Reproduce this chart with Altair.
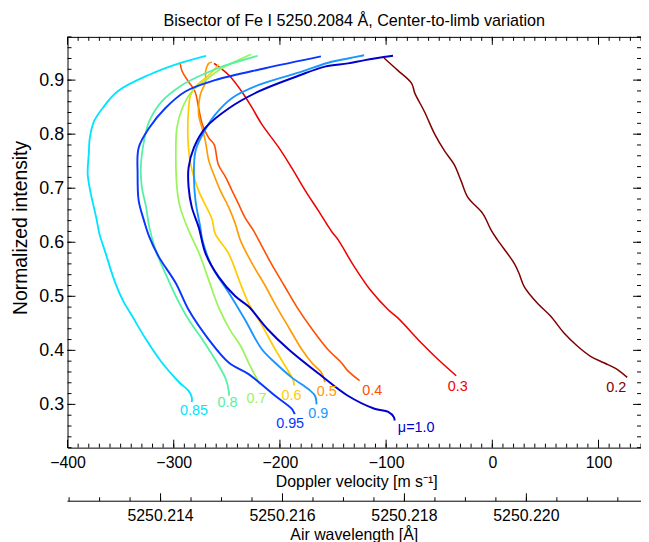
import altair as alt
import pandas as pd

# ---------------- data ----------------
MU_ORDER = ["0.2", "0.3", "0.4", "0.5", "0.6", "0.7", "0.8", "0.85", "0.9", "0.95", "1.0"]
COLORS = ["#800000", "#f00000", "#ff5000", "#ff9a00", "#ffcc00", "#99f55a",
          "#55f0a5", "#00e5ff", "#1a96ff", "#0a35ff", "#0000cc"]
WIDTHS = [1.5, 2, 2, 2, 2, 2, 2, 2, 2, 2, 2]

v_02 = [-102, -89, -76, -73, -64, -54, -45, -36, -29.5, -23, -9, -1, 5, 20.6, 25, 30, 42.5, 55, 67.5, 80, 92.5, 105, 117.5, 127]
i_02 = [0.941, 0.918, 0.894, 0.876, 0.842, 0.799, 0.769, 0.744, 0.714, 0.683, 0.653, 0.622, 0.604, 0.561, 0.543, 0.518, 0.487, 0.463, 0.432, 0.408, 0.389, 0.377, 0.365, 0.350]

v_03 = [-262, -248, -236, -226, -217, -201, -189, -176, -164, -151, -145, -131, -115, -98, -89, -67, -51, -34]
i_03 = [0.931, 0.909, 0.879, 0.848, 0.818, 0.775, 0.738, 0.695, 0.659, 0.619, 0.604, 0.558, 0.512, 0.475, 0.460, 0.414, 0.383, 0.353]

v_04 = [-294, -292, -286, -280, -276.5, -273, -267, -262, -258, -251, -245, -239, -233, -225, -220, -208, -196, -184, -170, -155, -142, -136, -125]
i_04 = [0.931, 0.916, 0.897, 0.879, 0.848, 0.818, 0.793, 0.781, 0.744, 0.720, 0.695, 0.671, 0.646, 0.622, 0.604, 0.560, 0.520, 0.480, 0.440, 0.402, 0.377, 0.362, 0.344]

v_05 = [-264, -267, -270, -270, -275, -276.5, -273.4, -270.2, -267, -262.4, -256, -248.3, -242, -237.3, -226, -214, -203, -191, -179.5, -170, -161, -157.6]
i_05 = [0.933, 0.931, 0.916, 0.897, 0.873, 0.836, 0.812, 0.787, 0.751, 0.726, 0.695, 0.665, 0.634, 0.604, 0.560, 0.520, 0.480, 0.440, 0.402, 0.377, 0.359, 0.341]

v_06 = [-257.7, -267, -278, -284, -286, -286.5, -284, -276.5, -264, -261, -248.3, -237.3, -229.5, -218, -204.5, -195, -187.3, -186.7]
i_06 = [0.929, 0.909, 0.891, 0.873, 0.848, 0.787, 0.744, 0.695, 0.643, 0.616, 0.579, 0.524, 0.487, 0.450, 0.402, 0.371, 0.344, 0.335]

v_07 = [-227, -254.6, -270, -283, -292, -297, -298, -297, -294, -286, -276, -267, -258, -247, -237, -229.5, -220, -219]
i_07 = [0.948, 0.922, 0.900, 0.879, 0.848, 0.812, 0.769, 0.702, 0.665, 0.622, 0.579, 0.530, 0.481, 0.438, 0.408, 0.377, 0.341, 0.337]

v_08 = [-221, -254.6, -273, -292, -311, -323, -328, -331, -330, -326, -323, -317, -308, -298, -286, -273, -261, -251, -248, -248]
i_08 = [0.945, 0.925, 0.910, 0.891, 0.861, 0.824, 0.787, 0.738, 0.702, 0.665, 0.628, 0.585, 0.543, 0.500, 0.457, 0.420, 0.383, 0.347, 0.322, 0.316]

v_085 = [-269.6, -295, -323, -353, -367, -375, -379, -380, -381, -378, -373, -370, -364, -356, -348, -339, -326, -311, -295, -286, -283, -283]
i_085 = [0.945, 0.931, 0.910, 0.879, 0.848, 0.824, 0.793, 0.763, 0.726, 0.689, 0.646, 0.616, 0.579, 0.530, 0.493, 0.463, 0.420, 0.377, 0.341, 0.325, 0.313, 0.304]

v_09 = [-120.7, -136, -151.4, -182.6, -220, -245, -261, -273, -279.5, -281, -279.5, -275, -273, -264, -248, -233, -217, -204.5, -189, -173, -167, -165.5]
i_09 = [0.946, 0.940, 0.934, 0.914, 0.891, 0.867, 0.836, 0.799, 0.769, 0.726, 0.677, 0.628, 0.604, 0.555, 0.506, 0.457, 0.402, 0.377, 0.350, 0.328, 0.316, 0.300]

v_095 = [-161.4, -214, -261, -289, -308, -323, -333, -334, -333, -328, -323, -314, -298, -286, -267, -248, -229.5, -204.5, -189, -186]
i_095 = [0.944, 0.922, 0.900, 0.879, 0.848, 0.812, 0.775, 0.726, 0.677, 0.640, 0.610, 0.573, 0.524, 0.475, 0.420, 0.377, 0.356, 0.316, 0.292, 0.282]

v_10 = [-93.5, -120, -136, -157.6, -182.6, -220, -248, -270, -281, -286, -286, -283, -276.5, -270, -257.7, -242, -229.5, -212, -192, -161, -136, -111, -98, -92.6, -92]
i_10 = [0.945, 0.937, 0.931, 0.925, 0.908, 0.879, 0.848, 0.812, 0.775, 0.738, 0.702, 0.665, 0.628, 0.579, 0.536, 0.500, 0.481, 0.440, 0.402, 0.353, 0.316, 0.292, 0.286, 0.276, 0.270]

CURVES = [("0.2", v_02, i_02), ("0.3", v_03, i_03), ("0.4", v_04, i_04), ("0.5", v_05, i_05),
          ("0.6", v_06, i_06), ("0.7", v_07, i_07), ("0.8", v_08, i_08), ("0.85", v_085, i_085),
          ("0.9", v_09, i_09), ("0.95", v_095, i_095), ("1.0", v_10, i_10)]

# curve labels (text, position in data coordinates)
LBL_MU = ["0.85", "0.8", "0.7", "0.6", "0.5", "0.4", "0.3", "0.2", "0.95", "0.9", "1.0"]
LBL_TEXT = ["0.85", "0.8", "0.7", "0.6", "0.5", "0.4", "0.3", "0.2", "0.95", "0.9", "μ=1.0"]
LBL_V = [-281, -249.3, -222, -189, -156, -113, -32.5, 116.6, -190.4, -164, -71.7]
LBL_I = [0.287, 0.303, 0.310, 0.316, 0.322, 0.324, 0.332, 0.331, 0.264, 0.282, 0.257]

# axes
X_DOMAIN = [-400, 140]
Y_DOMAIN = [0.22, 0.98]
X_MAJOR = [-400, -300, -200, -100, 0, 100]
X_MINOR = list(range(-400, 141, 10))
Y_MAJOR = [0.3, 0.4, 0.5, 0.6, 0.7, 0.8, 0.9]
Y_MINOR = [round(0.22 + 0.02 * k, 2) for k in range(39)]
# second (wavelength) axis: 5250.214 A sits at -312.4 m/s, 57411 (m/s) per A
LAM_REF = 5250.214
V_AT_REF = -312.4
V_PER_A = 57411.0
LAM_MAJOR = [5250.214, 5250.216, 5250.218, 5250.220]
LAM_LABELS = ["5250.214", "5250.216", "5250.218", "5250.220"]
LAM_MINOR = [round(5250.2125 + 0.0005 * k, 4) for k in range(19)]

W, H = 578, 414
FONT = "Liberation Sans"

# ---------------- build ----------------
rows = []
for mu, vs, iss in CURVES:
    for k, (v, i) in enumerate(zip(vs, iss)):
        rows.append({"mu": mu, "v": v, "I": i, "k": k})
df = pd.DataFrame(rows)

xs = alt.Scale(domain=X_DOMAIN, nice=False, zero=False)
ys = alt.Scale(domain=Y_DOMAIN, nice=False, zero=False)
cs = alt.Scale(domain=MU_ORDER, range=COLORS)

lines = alt.Chart(df).mark_line(strokeJoin="round", interpolate="catmull-rom").encode(
    x=alt.X("v:Q", scale=xs, axis=alt.Axis(
        title="Doppler velocity [m s⁻¹]", values=X_MAJOR, format="d", ticks=False,
        domain=False, grid=False, labelPadding=7, labelFlush=False, labelFontSize=16,
        titleFontSize=16, titlePadding=3, titleX=291)),
    y=alt.Y("I:Q", scale=ys, axis=alt.Axis(
        title="Normalized intensity", values=Y_MAJOR, format=".1f", ticks=False,
        domain=False, grid=False, labelPadding=4, labelFlush=False, labelFontSize=18,
        titleFontSize=19.5, titlePadding=8, titleY=192)),
    color=alt.Color("mu:N", scale=cs, legend=None),
    strokeWidth=alt.StrokeWidth("mu:N", scale=alt.Scale(domain=MU_ORDER, range=WIDTHS), legend=None),
    detail="mu:N",
    order="k:Q",
)

lbl_df = pd.DataFrame({"mu": LBL_MU, "t": LBL_TEXT, "v": LBL_V, "I": LBL_I})
labels = alt.Chart(lbl_df).mark_text(fontSize=14.5, font=FONT, baseline="middle", align="center").encode(
    x=alt.X("v:Q", scale=xs),
    y=alt.Y("I:Q", scale=ys),
    text="t:N",
    color=alt.Color("mu:N", scale=cs, legend=None),
)

def xticks(vals, y0, y1):
    return alt.Chart(pd.DataFrame({"v": vals})).mark_rule(color="black", strokeWidth=1).encode(
        x=alt.X("v:Q", scale=xs), y=alt.value(y0), y2=alt.value(y1))

def yticks(vals, x0, x1):
    return alt.Chart(pd.DataFrame({"I": vals})).mark_rule(color="black", strokeWidth=1).encode(
        y=alt.Y("I:Q", scale=ys), x=alt.value(x0), x2=alt.value(x1))

lam_expr = f"(datum.lam - {LAM_REF}) * {V_PER_A} + ({V_AT_REF})"
AX_Y = H + 54

def wticks(vals, ln):
    return alt.Chart(pd.DataFrame({"lam": vals})).transform_calculate(v=lam_expr).mark_rule(
        color="black", strokeWidth=1).encode(
        x=alt.X("v:Q", scale=xs), y=alt.value(AX_Y), y2=alt.value(AX_Y - ln))

wave_line = alt.Chart(pd.DataFrame({"a": [0]})).mark_rule(color="black", strokeWidth=1).encode(
    x=alt.value(0), x2=alt.value(W), y=alt.value(AX_Y))
wave_lbl = alt.Chart(pd.DataFrame({"lam": LAM_MAJOR, "t": LAM_LABELS})).transform_calculate(
    v=lam_expr).mark_text(fontSize=16, font=FONT, baseline="middle", align="center", color="black").encode(
    x=alt.X("v:Q", scale=xs), y=alt.value(AX_Y + 15), text="t:N")
wave_title = alt.Chart(pd.DataFrame({"t": ["Air wavelength [Å]"]})).mark_text(
    fontSize=16, font=FONT, baseline="middle", align="center", color="black").encode(
    x=alt.value(W / 2), y=alt.value(AX_Y + 34), text="t:N")

chart = alt.layer(
    lines, labels,
    xticks(X_MINOR, H, H - 4), xticks(X_MAJOR, H, H - 8),
    xticks(X_MINOR, 0, 4), xticks(X_MAJOR, 0, 8),
    yticks(Y_MINOR, 0, 4), yticks(Y_MAJOR, 0, 8),
    yticks(Y_MINOR, W, W - 4), yticks(Y_MAJOR, W, W - 8),
    wave_line, wticks(LAM_MINOR, 4), wticks(LAM_MAJOR, 8), wave_lbl, wave_title,
).properties(
    width=W, height=H,
    title=alt.Title("Bisector of Fe I 5250.2084 Å, Center-to-limb variation",
                    fontSize=16.3, fontWeight="normal", font=FONT, color="black",
                    anchor="middle", offset=7),
    autosize=alt.AutoSizeParams(type="none"),
    padding={"left": 60, "top": 27, "right": 0, "bottom": 93},
).configure_view(stroke="black", strokeWidth=1).configure_axis(
    labelFont=FONT, titleFont=FONT, labelColor="black", titleColor="black",
    titleFontWeight="normal",
)

chart.save("out.html", embed_options={"renderer": "svg", "actions": False})
